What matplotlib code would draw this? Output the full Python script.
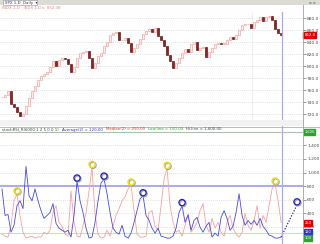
import matplotlib
matplotlib.use('Agg')
import matplotlib.pyplot as plt
import matplotlib.transforms as mtransforms
from matplotlib.patches import Rectangle
from matplotlib.ticker import FuncFormatter

# daily closes, one per bar
closes = [748, 752, 758, 737, 732, 723, 717, 720, 733, 747,
          758, 767, 777, 783, 787, 790, 798, 808, 800, 810,
          813, 812, 803, 790, 798, 813, 822, 823, 825, 813,
          797, 805, 817, 822, 833, 840, 852, 855, 857, 843,
          843, 847, 838, 823, 830, 837, 845, 853, 858, 862,
          857, 863, 850, 843, 833, 818, 808, 797, 805, 813,
          822, 828, 823, 837, 840, 827, 830, 832, 815, 823,
          830, 837, 838, 837, 837, 843, 848, 845, 852, 860,
          868, 870, 870, 863, 873, 877, 882, 875, 882, 883,
          877, 862, 855, 852]

# oscillator: Average(2) (blue) and Median(2) (pink)
avg_vals = [756, 364, 378, 116, 218, 509, 582, 465, 1091, 655,
            582, 756, 582, 436, 320, 364, 407, 538, 247, 175,
            145, 116, 145, 44, 364, 873, 582, 407, 175, 29,
            44, 262, 582, 844, 902, 684, 407, 175, 116, 87,
            218, 58, 29, 102, 262, 436, 611, 655, 364, 291,
            175, 102, 175, 58, 44, 29, 29, 58, 175, 407,
            509, 262, 378, 145, 291, 335, 189, 116, 204, 262,
            44, 102, 58, 335, 436, 320, 145, 204, 407, 684,
            364, 218, 291, 233, 291, 218, 320, 204, 145, 73,
            58, 29, 29, 44]
med_vals = [87, 58, 44, 218, 582, 684, 364, 116, 29, 44,
            58, 29, 44, 44, 116, 87, 145, 407, 509, 262,
            204, 87, 58, 727, 262, 58, 44, 218, 407, 727,
            1076, 393, 87, 29, 44, 145, 58, 204, 364, 465,
            582, 640, 756, 815, 436, 87, 44, 44, 58, 407,
            436, 204, 145, 509, 902, 1062, 509, 262, 116, 145,
            58, 218, 364, 116, 175, 262, 436, 538, 218, 116,
            320, 175, 262, 116, 58, 262, 364, 175, 87, 44,
            116, 393, 218, 145, 291, 509, 175, 364, 262, 509,
            756, 829, 582, 262]

month_labels = ['July', 'August', 'September', 'October', 'November', 'December', '2011']
month_pos = [0, 16.7, 30, 43.3, 56.7, 69.3, 83.7]
year_line = 83.3

price_ticks = [880, 860, 840, 820, 800, 780, 760, 740, 720]
osc_ticks = [1400, 1200, 1000, 800, 600, 400, 200]
hi_line = 1600
low_line = 100
mid_line = 800

yellow_idx = [5, 30, 43, 55, 91]
blue_idx = [25, 34, 47, 60]
proj_x = [93, 98.3]
proj_y = [44, 520]
cursor_x = 93.3

W, H = 320, 244
fig = plt.figure(figsize=(3.2, 2.44), dpi=100)
fig.patch.set_facecolor('white')


def fy(px):
    return 1 - px / H


xr = 303 / W
xlim = (-0.67, 100.3)

# title bar
fig.patches.append(Rectangle((0, fy(5)), 1, 5 / H, transform=fig.transFigure,
                             fc='#dcdcd4', ec='none', zorder=0))
fig.patches.append(Rectangle((3 / W, fy(5)), 34 / W, 5 / H, transform=fig.transFigure,
                             fc='white', ec='#909090', lw=0.4, zorder=1))
fig.text(5 / W, fy(2.6), 'SPX 1-D  Daily  \u25be', fontsize=2.8, color='#303060',
         va='center', ha='left')
fig.text(312 / W, fy(2.6), '\u25ab \u25ab', fontsize=2.8, color='#707070',
         va='center', ha='center')
fig.text(2 / W, fy(8), 'INDX 1-D \u00b7 INDX 1-D \u25b8  852.38', fontsize=2.8,
         color='#e08080', va='center', ha='left')

# date strip + separators
fig.patches.append(Rectangle((0, fy(126)), xr, 6 / H, transform=fig.transFigure,
                             fc='#f2f2f2', ec='none', zorder=0))
fig.lines.append(plt.Line2D([0, 1], [fy(126.5), fy(126.5)], transform=fig.transFigure,
                            color='#b0b0b0', lw=0.6))
fig.lines.append(plt.Line2D([xr, xr], [fy(5), 0], transform=fig.transFigure,
                            color='#a0a0a0', lw=0.6))

# ---- price panel ----
ax = fig.add_axes([0, fy(120), xr, (120 - 12) / H])
ax.set_xlim(*xlim)
ax.set_ylim(710, 890)
for i, c in enumerate(closes):
    o = closes[i - 1] if i > 0 else c
    if c >= o:
        ax.bar(i, max(c - o, 0.8), bottom=o, width=0.55, color='#fff0f0',
               edgecolor='#f4a4a4', linewidth=0.5, zorder=3)
    else:
        ax.bar(i, o - c, bottom=c, width=0.55, color='#9a1c1c',
               edgecolor='#400000', linewidth=0.4, zorder=3)
ax.yaxis.tick_right()
ax.set_yticks(price_ticks)
ax.yaxis.set_major_formatter(FuncFormatter(lambda v, p: f'{v:,.1f}'))
ax.tick_params(axis='y', labelsize=3.2, colors='#505050', length=2, width=0.4, pad=1)
ax.set_xticks([])
ax.grid(axis='y', linestyle=(0, (1, 2)), color='#c4c4c4', lw=0.5)
ax.axvline(year_line, linestyle=(0, (1, 2)), color='#c4c4c4', lw=0.5)
for s in ax.spines.values():
    s.set_visible(False)
ax.spines['bottom'].set_visible(True)
ax.spines['bottom'].set_color('#d0d0d0')
ax.spines['bottom'].set_linewidth(0.5)
for lab, pos in zip(month_labels, month_pos):
    ax.text(pos, -0.015, "'" + lab, transform=ax.get_xaxis_transform(),
            fontsize=2.8, color='#606060', va='top', ha='left', clip_on=False)
ax.annotate(f'{closes[-1]:.1f}', xy=(1, closes[-1]), xycoords=ax.get_yaxis_transform(),
            xytext=(1, 0), textcoords='offset points', fontsize=2.8, color='white',
            va='center', ha='left', annotation_clip=False, zorder=10,
            bbox=dict(boxstyle='square,pad=0.25', fc='#e00000', ec='#e00000'))

# ---- oscillator panel ----
ax2 = fig.add_axes([0, fy(243), xr, (243 - 128) / H])
ax2.set_xlim(*xlim)
ax2.set_ylim(-44, 1659)
xs = list(range(len(avg_vals)))
ax2.axhline(hi_line, color='#a8c4a8', lw=0.8, zorder=1)
ax2.axhline(low_line, color='#c8e0c8', lw=0.8, zorder=1)
ax2.axhline(mid_line, color='#a8a8f0', lw=1.4, zorder=1)
ax2.plot(xs, med_vals, color='#f7a0a0', lw=0.6, zorder=2)
ax2.plot(xs, avg_vals, color='#4848e8', lw=0.6, zorder=3)
ax2.plot(proj_x, proj_y, color='#2020d0', lw=0.9, linestyle=(0, (1, 1.3)), zorder=3)

shift = mtransforms.offset_copy(ax2.transData, fig=fig, x=0, y=2.2, units='points')
shadow = mtransforms.offset_copy(ax2.transData, fig=fig, x=0.7, y=1.5, units='points')
yx = [i for i in yellow_idx]
yy = [med_vals[i] for i in yellow_idx]
bx = [i for i in blue_idx] + [proj_x[-1]]
by = [avg_vals[i] for i in blue_idx] + [proj_y[-1]]
ax2.scatter(yx, yy, s=20, facecolors='none', edgecolors='#a0a0a0', linewidths=0.9,
            transform=shadow, zorder=4, clip_on=False)
ax2.scatter(yx, yy, s=20, facecolors='none', edgecolors='#f0e000', linewidths=0.9,
            transform=shift, zorder=5, clip_on=False)
ax2.scatter(bx, by, s=20, facecolors='none', edgecolors='#a0a0a0', linewidths=0.9,
            transform=shadow, zorder=4, clip_on=False)
ax2.scatter(bx, by, s=20, facecolors='none', edgecolors='#1c1cc0', linewidths=0.9,
            transform=shift, zorder=5, clip_on=False)

ax2.yaxis.tick_right()
ax2.set_yticks(osc_ticks)
ax2.yaxis.set_major_formatter(FuncFormatter(lambda v, p: f'{v:,.0f}'))
ax2.tick_params(axis='y', labelsize=3.2, colors='#505050', length=2, width=0.4, pad=1)
ax2.set_xticks([])
ax2.grid(axis='y', linestyle=(0, (1, 2)), color='#c4c4c4', lw=0.5)
for s in ax2.spines.values():
    s.set_visible(False)

boxes = [(hi_line, '1,600', '#30a030', 0), (250, '250', '#e00000', 0),
         (120, '120', '#3030d0', 0), (100, '100', '#30a030', -3.5)]
for val, txt, col, dy in boxes:
    ax2.annotate(txt, xy=(1, val), xycoords=ax2.get_yaxis_transform(),
                 xytext=(1, dy), textcoords='offset points', fontsize=2.6, color='white',
                 va='center', ha='left', annotation_clip=False, zorder=10,
                 bbox=dict(boxstyle='square,pad=0.2', fc=col, ec=col))

# header line of the indicator, multi-coloured
hdr = [('stochRSI_R(6000 1 2 5 0 0 1)', '#404040'), ('Average(2) = 120.00', '#3030d0'),
       ('Median(2) = 250.00', '#e03030'), ('Low.line = 100.00', '#30a030'),
       ('Hi.line = 1,600.00', '#404040')]
fig.canvas.draw()
rend = fig.canvas.get_renderer()
xpos = 2
for txt, col in hdr:
    t = fig.text(xpos / W, fy(129.5), txt, fontsize=2.8, color=col, va='center', ha='left')
    xpos += t.get_window_extent(renderer=rend).width + 3

# cursor line across both panels
axo = fig.add_axes([0, 0, xr, fy(12)])
axo.set_xlim(*xlim)
axo.axvline(cursor_x, color='#a8a8f4', lw=0.9)
axo.axis('off')
axo.patch.set_alpha(0)

fig.savefig('out.png', dpi=100)
